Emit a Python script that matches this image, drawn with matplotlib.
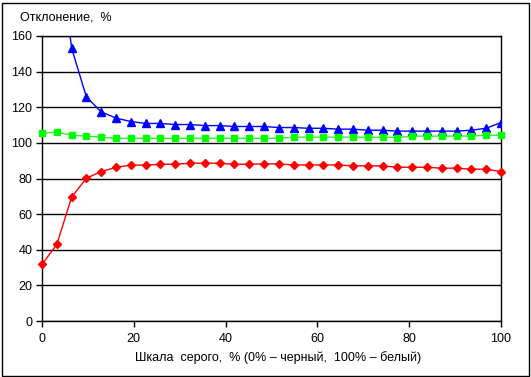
import matplotlib
matplotlib.use("Agg")
import matplotlib.pyplot as plt
import numpy as np
from matplotlib.patches import Rectangle

plt.rcParams['font.family'] = ['Liberation Sans', 'DejaVu Sans']

n_steps = 32
gray_scale = [i * 100 / 31 for i in range(n_steps)]

blue_values = [np.nan, 220, 153.2, 125.7, 117.4, 113.9, 112.0, 110.9, 110.9, 110.3,
               110.3, 109.7, 109.7, 109.2, 109.2, 109.2, 108.6, 108.6, 108.2, 108.2,
               107.7, 107.7, 107.1, 107.1, 106.6, 106.6, 106.6, 106.6, 106.6, 107.1,
               108.2, 111.4]
green_values = [105.4, 106.0, 104.3, 103.8, 103.2, 102.6, 102.6, 102.6, 102.6, 102.6,
                102.6, 102.6, 102.6, 102.6, 102.6, 102.6, 102.6, 103.2, 103.2, 103.2,
                103.2, 103.2, 103.2, 103.2, 103.0, 103.8, 103.8, 103.8, 103.8, 103.8,
                104.3, 104.3]
red_values = [31.8, 43.0, 69.5, 80.2, 83.9, 86.3, 87.5, 87.5, 88.0, 88.0,
              88.6, 88.6, 88.6, 88.0, 88.0, 88.2, 88.2, 87.6, 87.6, 87.6,
              87.6, 87.1, 87.1, 87.1, 86.3, 86.3, 86.3, 85.8, 85.8, 85.2,
              85.2, 83.9]

x_ticks = [0, 20, 40, 60, 80, 100]
y_ticks = [0, 20, 40, 60, 80, 100, 120, 140, 160]

W, H = 531, 377
fig = plt.figure(figsize=(W / 100, H / 100), dpi=100)
ax = fig.add_axes([42 / W, 1 - 321 / H, (501 - 42) / W, (321 - 36) / H])

ax.plot(gray_scale, blue_values, color='#0000FF', lw=1, marker='^', ms=5.5,
        mfc='#0000FF', mec='#0000FF', clip_on=True, zorder=3)
ax.plot(gray_scale, green_values, color='#33EE33', lw=1, marker='s', ms=5,
        mfc='#00FF00', mec='#00FF00', clip_on=False, zorder=3)
ax.plot(gray_scale, red_values, color='#FF0000', lw=1, marker='D', ms=4,
        mfc='#FF0000', mec='#FF0000', clip_on=False, zorder=3)

ax.set_xlim(0, 100)
ax.set_ylim(0, 160)
ax.set_xticks(x_ticks)
ax.set_yticks(y_ticks)
ax.yaxis.grid(True, color='black', lw=1)
ax.set_axisbelow(True)
for s in ax.spines.values():
    s.set_color('black')
    s.set_linewidth(1)
ax.tick_params(axis='both', direction='out', length=4, width=1, labelsize=9,
               colors='black', pad=3)
ax.tick_params(axis='x', pad=5)

fig.text(20 / W, 1 - 17 / H, 'Отклонение,  %', fontsize=9, ha='left', va='center')
fig.text(278 / W, 1 - 358 / H, 'Шкала  серого,  % (0% – черный,  100% – белый)',
         fontsize=9, ha='center', va='center')

fig.patches.append(Rectangle((1.5 / W, 1.5 / H), (W - 4) / W, (H - 4) / H,
                             transform=fig.transFigure, fill=False,
                             edgecolor='black', lw=1))

fig.savefig('out.png', dpi=100)
